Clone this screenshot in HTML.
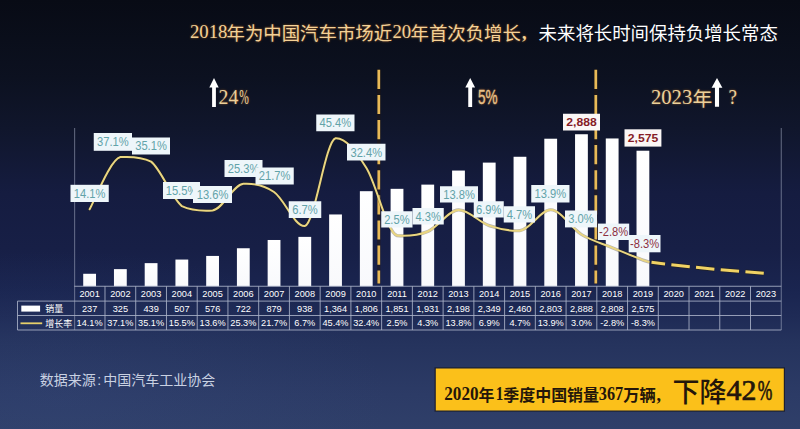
<!DOCTYPE html>
<html><head><meta charset="utf-8"><title>chart</title>
<style>
html,body{margin:0;padding:0;background:#0d1222;}
body{width:800px;height:429px;overflow:hidden;font-family:"Liberation Sans",sans-serif;}
svg{display:block;}
</style></head><body>
<svg width="800" height="429" viewBox="0 0 800 429"><defs>
<linearGradient id="bg" x1="0" y1="0" x2="0" y2="1">
<stop offset="0" stop-color="#080b15"/>
<stop offset="0.18" stop-color="#0c1120"/>
<stop offset="0.30" stop-color="#10162c"/>
<stop offset="0.45" stop-color="#151c40"/>
<stop offset="0.58" stop-color="#171f46"/>
<stop offset="0.68" stop-color="#1a2550"/>
<stop offset="0.74" stop-color="#1f2b56"/>
<stop offset="0.80" stop-color="#25335d"/>
<stop offset="0.92" stop-color="#2c3b66"/>
<stop offset="1" stop-color="#2f3f69"/>
</linearGradient>
<radialGradient id="glowL" cx="0.5" cy="0.5" r="0.5">
<stop offset="0" stop-color="#3a5086" stop-opacity="0.18"/>
<stop offset="1" stop-color="#3a5086" stop-opacity="0"/>
</radialGradient>
<linearGradient id="bar" x1="0" y1="0" x2="0" y2="1">
<stop offset="0" stop-color="#ffffff"/>
<stop offset="1" stop-color="#f8f9fc"/>
</linearGradient>
<filter id="glow" x="-5%" y="-30%" width="110%" height="160%">
<feGaussianBlur stdDeviation="1.2"/>
</filter>
<filter id="soft" x="-5%" y="-5%" width="110%" height="110%">
<feGaussianBlur stdDeviation="0.35"/>
</filter>
</defs>
<rect x="0" y="0" width="800" height="429" fill="url(#bg)"/>
<ellipse cx="60" cy="400" rx="330" ry="150" fill="url(#glowL)"/>
<line x1="74.65" y1="128" x2="74.65" y2="330" stroke="#aab2c8" stroke-width="1" opacity="0.55"/>
<line x1="781.25" y1="128" x2="781.25" y2="330" stroke="#aab2c8" stroke-width="1" opacity="0.55"/>
<rect x="83.22" y="273.78" width="12.80" height="12.47" fill="url(#bar)"/>
<rect x="113.96" y="269.14" width="12.80" height="17.11" fill="url(#bar)"/>
<rect x="144.70" y="263.14" width="12.80" height="23.11" fill="url(#bar)"/>
<rect x="175.44" y="259.56" width="12.80" height="26.69" fill="url(#bar)"/>
<rect x="206.18" y="255.93" width="12.80" height="30.32" fill="url(#bar)"/>
<rect x="236.92" y="248.25" width="12.80" height="38.00" fill="url(#bar)"/>
<rect x="267.65" y="239.99" width="12.80" height="46.26" fill="url(#bar)"/>
<rect x="298.39" y="236.88" width="12.80" height="49.37" fill="url(#bar)"/>
<rect x="329.13" y="214.46" width="12.80" height="71.79" fill="url(#bar)"/>
<rect x="359.87" y="191.19" width="12.80" height="95.06" fill="url(#bar)"/>
<rect x="390.61" y="188.83" width="12.80" height="97.42" fill="url(#bar)"/>
<rect x="421.35" y="184.62" width="12.80" height="101.63" fill="url(#bar)"/>
<rect x="452.09" y="170.56" width="12.80" height="115.69" fill="url(#bar)"/>
<rect x="482.83" y="162.61" width="12.80" height="123.64" fill="url(#bar)"/>
<rect x="513.57" y="156.77" width="12.80" height="129.48" fill="url(#bar)"/>
<rect x="544.31" y="138.72" width="12.80" height="147.53" fill="url(#bar)"/>
<rect x="575.05" y="134.24" width="12.80" height="152.01" fill="url(#bar)"/>
<rect x="605.78" y="138.46" width="12.80" height="147.79" fill="url(#bar)"/>
<rect x="636.52" y="150.72" width="12.80" height="135.53" fill="url(#bar)"/>
<line x1="74.25" y1="286.25" x2="781.25" y2="286.25" stroke="#aab2c8" stroke-width="1" opacity="0.85"/>
<line x1="17.50" y1="301.10" x2="781.25" y2="301.10" stroke="#aab2c8" stroke-width="1" opacity="0.85"/>
<line x1="17.50" y1="315.50" x2="781.25" y2="315.50" stroke="#aab2c8" stroke-width="1" opacity="0.85"/>
<line x1="17.50" y1="330.00" x2="781.25" y2="330.00" stroke="#aab2c8" stroke-width="1" opacity="0.85"/>
<line x1="17.5" y1="301.1" x2="17.5" y2="330" stroke="#aab2c8" stroke-width="1" opacity="0.85"/>
<line x1="104.99" y1="286.25" x2="104.99" y2="330" stroke="#aab2c8" stroke-width="1" opacity="0.85"/>
<line x1="135.73" y1="286.25" x2="135.73" y2="330" stroke="#aab2c8" stroke-width="1" opacity="0.85"/>
<line x1="166.47" y1="286.25" x2="166.47" y2="330" stroke="#aab2c8" stroke-width="1" opacity="0.85"/>
<line x1="197.21" y1="286.25" x2="197.21" y2="330" stroke="#aab2c8" stroke-width="1" opacity="0.85"/>
<line x1="227.95" y1="286.25" x2="227.95" y2="330" stroke="#aab2c8" stroke-width="1" opacity="0.85"/>
<line x1="258.68" y1="286.25" x2="258.68" y2="330" stroke="#aab2c8" stroke-width="1" opacity="0.85"/>
<line x1="289.42" y1="286.25" x2="289.42" y2="330" stroke="#aab2c8" stroke-width="1" opacity="0.85"/>
<line x1="320.16" y1="286.25" x2="320.16" y2="330" stroke="#aab2c8" stroke-width="1" opacity="0.85"/>
<line x1="350.90" y1="286.25" x2="350.90" y2="330" stroke="#aab2c8" stroke-width="1" opacity="0.85"/>
<line x1="381.64" y1="286.25" x2="381.64" y2="330" stroke="#aab2c8" stroke-width="1" opacity="0.85"/>
<line x1="412.38" y1="286.25" x2="412.38" y2="330" stroke="#aab2c8" stroke-width="1" opacity="0.85"/>
<line x1="443.12" y1="286.25" x2="443.12" y2="330" stroke="#aab2c8" stroke-width="1" opacity="0.85"/>
<line x1="473.86" y1="286.25" x2="473.86" y2="330" stroke="#aab2c8" stroke-width="1" opacity="0.85"/>
<line x1="504.60" y1="286.25" x2="504.60" y2="330" stroke="#aab2c8" stroke-width="1" opacity="0.85"/>
<line x1="535.34" y1="286.25" x2="535.34" y2="330" stroke="#aab2c8" stroke-width="1" opacity="0.85"/>
<line x1="566.08" y1="286.25" x2="566.08" y2="330" stroke="#aab2c8" stroke-width="1" opacity="0.85"/>
<line x1="596.82" y1="286.25" x2="596.82" y2="330" stroke="#aab2c8" stroke-width="1" opacity="0.85"/>
<line x1="627.55" y1="286.25" x2="627.55" y2="330" stroke="#aab2c8" stroke-width="1" opacity="0.85"/>
<line x1="658.29" y1="286.25" x2="658.29" y2="330" stroke="#aab2c8" stroke-width="1" opacity="0.85"/>
<line x1="689.03" y1="286.25" x2="689.03" y2="330" stroke="#aab2c8" stroke-width="1" opacity="0.85"/>
<line x1="719.77" y1="286.25" x2="719.77" y2="330" stroke="#aab2c8" stroke-width="1" opacity="0.85"/>
<line x1="750.51" y1="286.25" x2="750.51" y2="330" stroke="#aab2c8" stroke-width="1" opacity="0.85"/>
<text x="89.62" y="297.40" font-family="'Liberation Sans', sans-serif" font-size="9.20" font-weight="normal" fill="#ffffff" text-anchor="middle" >2001</text>
<text x="120.36" y="297.40" font-family="'Liberation Sans', sans-serif" font-size="9.20" font-weight="normal" fill="#ffffff" text-anchor="middle" >2002</text>
<text x="151.10" y="297.40" font-family="'Liberation Sans', sans-serif" font-size="9.20" font-weight="normal" fill="#ffffff" text-anchor="middle" >2003</text>
<text x="181.84" y="297.40" font-family="'Liberation Sans', sans-serif" font-size="9.20" font-weight="normal" fill="#ffffff" text-anchor="middle" >2004</text>
<text x="212.58" y="297.40" font-family="'Liberation Sans', sans-serif" font-size="9.20" font-weight="normal" fill="#ffffff" text-anchor="middle" >2005</text>
<text x="243.32" y="297.40" font-family="'Liberation Sans', sans-serif" font-size="9.20" font-weight="normal" fill="#ffffff" text-anchor="middle" >2006</text>
<text x="274.05" y="297.40" font-family="'Liberation Sans', sans-serif" font-size="9.20" font-weight="normal" fill="#ffffff" text-anchor="middle" >2007</text>
<text x="304.79" y="297.40" font-family="'Liberation Sans', sans-serif" font-size="9.20" font-weight="normal" fill="#ffffff" text-anchor="middle" >2008</text>
<text x="335.53" y="297.40" font-family="'Liberation Sans', sans-serif" font-size="9.20" font-weight="normal" fill="#ffffff" text-anchor="middle" >2009</text>
<text x="366.27" y="297.40" font-family="'Liberation Sans', sans-serif" font-size="9.20" font-weight="normal" fill="#ffffff" text-anchor="middle" >2010</text>
<text x="397.01" y="297.40" font-family="'Liberation Sans', sans-serif" font-size="9.20" font-weight="normal" fill="#ffffff" text-anchor="middle" >2011</text>
<text x="427.75" y="297.40" font-family="'Liberation Sans', sans-serif" font-size="9.20" font-weight="normal" fill="#ffffff" text-anchor="middle" >2012</text>
<text x="458.49" y="297.40" font-family="'Liberation Sans', sans-serif" font-size="9.20" font-weight="normal" fill="#ffffff" text-anchor="middle" >2013</text>
<text x="489.23" y="297.40" font-family="'Liberation Sans', sans-serif" font-size="9.20" font-weight="normal" fill="#ffffff" text-anchor="middle" >2014</text>
<text x="519.97" y="297.40" font-family="'Liberation Sans', sans-serif" font-size="9.20" font-weight="normal" fill="#ffffff" text-anchor="middle" >2015</text>
<text x="550.71" y="297.40" font-family="'Liberation Sans', sans-serif" font-size="9.20" font-weight="normal" fill="#ffffff" text-anchor="middle" >2016</text>
<text x="581.45" y="297.40" font-family="'Liberation Sans', sans-serif" font-size="9.20" font-weight="normal" fill="#ffffff" text-anchor="middle" >2017</text>
<text x="612.18" y="297.40" font-family="'Liberation Sans', sans-serif" font-size="9.20" font-weight="normal" fill="#ffffff" text-anchor="middle" >2018</text>
<text x="642.92" y="297.40" font-family="'Liberation Sans', sans-serif" font-size="9.20" font-weight="normal" fill="#ffffff" text-anchor="middle" >2019</text>
<text x="673.66" y="297.40" font-family="'Liberation Sans', sans-serif" font-size="9.20" font-weight="normal" fill="#ffffff" text-anchor="middle" >2020</text>
<text x="704.40" y="297.40" font-family="'Liberation Sans', sans-serif" font-size="9.20" font-weight="normal" fill="#ffffff" text-anchor="middle" >2021</text>
<text x="735.14" y="297.40" font-family="'Liberation Sans', sans-serif" font-size="9.20" font-weight="normal" fill="#ffffff" text-anchor="middle" >2022</text>
<text x="765.88" y="297.40" font-family="'Liberation Sans', sans-serif" font-size="9.20" font-weight="normal" fill="#ffffff" text-anchor="middle" >2023</text>
<text x="89.62" y="311.90" font-family="'Liberation Sans', sans-serif" font-size="9.20" font-weight="normal" fill="#ffffff" text-anchor="middle" >237</text>
<text x="120.36" y="311.90" font-family="'Liberation Sans', sans-serif" font-size="9.20" font-weight="normal" fill="#ffffff" text-anchor="middle" >325</text>
<text x="151.10" y="311.90" font-family="'Liberation Sans', sans-serif" font-size="9.20" font-weight="normal" fill="#ffffff" text-anchor="middle" >439</text>
<text x="181.84" y="311.90" font-family="'Liberation Sans', sans-serif" font-size="9.20" font-weight="normal" fill="#ffffff" text-anchor="middle" >507</text>
<text x="212.58" y="311.90" font-family="'Liberation Sans', sans-serif" font-size="9.20" font-weight="normal" fill="#ffffff" text-anchor="middle" >576</text>
<text x="243.32" y="311.90" font-family="'Liberation Sans', sans-serif" font-size="9.20" font-weight="normal" fill="#ffffff" text-anchor="middle" >722</text>
<text x="274.05" y="311.90" font-family="'Liberation Sans', sans-serif" font-size="9.20" font-weight="normal" fill="#ffffff" text-anchor="middle" >879</text>
<text x="304.79" y="311.90" font-family="'Liberation Sans', sans-serif" font-size="9.20" font-weight="normal" fill="#ffffff" text-anchor="middle" >938</text>
<text x="335.53" y="311.90" font-family="'Liberation Sans', sans-serif" font-size="9.20" font-weight="normal" fill="#ffffff" text-anchor="middle" >1,364</text>
<text x="366.27" y="311.90" font-family="'Liberation Sans', sans-serif" font-size="9.20" font-weight="normal" fill="#ffffff" text-anchor="middle" >1,806</text>
<text x="397.01" y="311.90" font-family="'Liberation Sans', sans-serif" font-size="9.20" font-weight="normal" fill="#ffffff" text-anchor="middle" >1,851</text>
<text x="427.75" y="311.90" font-family="'Liberation Sans', sans-serif" font-size="9.20" font-weight="normal" fill="#ffffff" text-anchor="middle" >1,931</text>
<text x="458.49" y="311.90" font-family="'Liberation Sans', sans-serif" font-size="9.20" font-weight="normal" fill="#ffffff" text-anchor="middle" >2,198</text>
<text x="489.23" y="311.90" font-family="'Liberation Sans', sans-serif" font-size="9.20" font-weight="normal" fill="#ffffff" text-anchor="middle" >2,349</text>
<text x="519.97" y="311.90" font-family="'Liberation Sans', sans-serif" font-size="9.20" font-weight="normal" fill="#ffffff" text-anchor="middle" >2,460</text>
<text x="550.71" y="311.90" font-family="'Liberation Sans', sans-serif" font-size="9.20" font-weight="normal" fill="#ffffff" text-anchor="middle" >2,803</text>
<text x="581.45" y="311.90" font-family="'Liberation Sans', sans-serif" font-size="9.20" font-weight="normal" fill="#ffffff" text-anchor="middle" >2,888</text>
<text x="612.18" y="311.90" font-family="'Liberation Sans', sans-serif" font-size="9.20" font-weight="normal" fill="#ffffff" text-anchor="middle" >2,808</text>
<text x="642.92" y="311.90" font-family="'Liberation Sans', sans-serif" font-size="9.20" font-weight="normal" fill="#ffffff" text-anchor="middle" >2,575</text>
<text x="89.62" y="326.30" font-family="'Liberation Sans', sans-serif" font-size="9.20" font-weight="normal" fill="#ffffff" text-anchor="middle" >14.1%</text>
<text x="120.36" y="326.30" font-family="'Liberation Sans', sans-serif" font-size="9.20" font-weight="normal" fill="#ffffff" text-anchor="middle" >37.1%</text>
<text x="151.10" y="326.30" font-family="'Liberation Sans', sans-serif" font-size="9.20" font-weight="normal" fill="#ffffff" text-anchor="middle" >35.1%</text>
<text x="181.84" y="326.30" font-family="'Liberation Sans', sans-serif" font-size="9.20" font-weight="normal" fill="#ffffff" text-anchor="middle" >15.5%</text>
<text x="212.58" y="326.30" font-family="'Liberation Sans', sans-serif" font-size="9.20" font-weight="normal" fill="#ffffff" text-anchor="middle" >13.6%</text>
<text x="243.32" y="326.30" font-family="'Liberation Sans', sans-serif" font-size="9.20" font-weight="normal" fill="#ffffff" text-anchor="middle" >25.3%</text>
<text x="274.05" y="326.30" font-family="'Liberation Sans', sans-serif" font-size="9.20" font-weight="normal" fill="#ffffff" text-anchor="middle" >21.7%</text>
<text x="304.79" y="326.30" font-family="'Liberation Sans', sans-serif" font-size="9.20" font-weight="normal" fill="#ffffff" text-anchor="middle" >6.7%</text>
<text x="335.53" y="326.30" font-family="'Liberation Sans', sans-serif" font-size="9.20" font-weight="normal" fill="#ffffff" text-anchor="middle" >45.4%</text>
<text x="366.27" y="326.30" font-family="'Liberation Sans', sans-serif" font-size="9.20" font-weight="normal" fill="#ffffff" text-anchor="middle" >32.4%</text>
<text x="397.01" y="326.30" font-family="'Liberation Sans', sans-serif" font-size="9.20" font-weight="normal" fill="#ffffff" text-anchor="middle" >2.5%</text>
<text x="427.75" y="326.30" font-family="'Liberation Sans', sans-serif" font-size="9.20" font-weight="normal" fill="#ffffff" text-anchor="middle" >4.3%</text>
<text x="458.49" y="326.30" font-family="'Liberation Sans', sans-serif" font-size="9.20" font-weight="normal" fill="#ffffff" text-anchor="middle" >13.8%</text>
<text x="489.23" y="326.30" font-family="'Liberation Sans', sans-serif" font-size="9.20" font-weight="normal" fill="#ffffff" text-anchor="middle" >6.9%</text>
<text x="519.97" y="326.30" font-family="'Liberation Sans', sans-serif" font-size="9.20" font-weight="normal" fill="#ffffff" text-anchor="middle" >4.7%</text>
<text x="550.71" y="326.30" font-family="'Liberation Sans', sans-serif" font-size="9.20" font-weight="normal" fill="#ffffff" text-anchor="middle" >13.9%</text>
<text x="581.45" y="326.30" font-family="'Liberation Sans', sans-serif" font-size="9.20" font-weight="normal" fill="#ffffff" text-anchor="middle" >3.0%</text>
<text x="612.18" y="326.30" font-family="'Liberation Sans', sans-serif" font-size="9.20" font-weight="normal" fill="#ffffff" text-anchor="middle" >-2.8%</text>
<text x="642.92" y="326.30" font-family="'Liberation Sans', sans-serif" font-size="9.20" font-weight="normal" fill="#ffffff" text-anchor="middle" >-8.3%</text>
<rect x="21.3" y="305.6" width="18.8" height="6" fill="#ffffff"/>
<line x1="20.5" y1="323.3" x2="42.2" y2="323.3" stroke="#e6cf6a" stroke-width="1.8"/>
<text x="45.20" y="312.20" font-family="'Liberation Sans', 'Noto Sans CJK SC', sans-serif" font-size="9.00" font-weight="normal" fill="#ffffff" text-anchor="start" textLength="18.00" lengthAdjust="spacingAndGlyphs">销量</text>
<text x="45.20" y="326.60" font-family="'Liberation Sans', 'Noto Sans CJK SC', sans-serif" font-size="9.00" font-weight="normal" fill="#ffffff" text-anchor="start" textLength="27.00" lengthAdjust="spacingAndGlyphs">增长率</text>
<path d="M378.80 69.3V284" stroke="#2a1a0c" stroke-width="3.4" fill="none" opacity="0.42"/>
<path d="M378.80 69.80V89.00M378.80 94.90V114.10M378.80 120.00V139.20M378.80 145.10V164.30M378.80 170.20V189.40M378.80 195.30V214.50M378.80 220.40V239.60M378.80 245.50V264.70M378.80 270.60V283.50" stroke="#e8ba58" stroke-width="2.7" fill="none"/>
<path d="M595.80 69.3V284" stroke="#2a1a0c" stroke-width="3.4" fill="none" opacity="0.42"/>
<path d="M595.80 69.80V89.00M595.80 94.90V114.10M595.80 120.00V139.20M595.80 145.10V164.30M595.80 170.20V189.40M595.80 195.30V214.50M595.80 220.40V239.60M595.80 245.50V264.70M595.80 270.60V283.50" stroke="#e8ba58" stroke-width="2.7" fill="none"/>
<path d="M89.62 209.29C94.74 200.59 110.11 159.47 120.36 157.08C130.61 156.48 140.85 156.48 151.10 161.62C161.34 169.79 171.59 197.98 181.84 206.12C192.08 211.03 202.33 211.03 212.58 210.43C222.82 209.32 233.07 184.79 243.32 183.87C253.56 183.27 263.81 185.00 274.05 192.04C284.30 199.08 294.55 226.69 304.79 226.09C315.04 223.40 325.29 141.16 335.53 138.24C345.78 137.64 356.03 151.52 366.27 167.75C376.52 183.98 386.76 232.44 397.01 235.62C407.26 236.22 417.50 235.81 427.75 231.54C438.00 227.26 448.24 210.27 458.49 209.97C468.74 209.68 478.98 222.19 489.23 225.64C499.47 229.08 509.72 231.23 519.97 230.63C530.21 229.84 540.46 209.55 550.71 209.75C560.95 209.94 571.20 228.17 581.45 234.49C591.69 240.81 601.94 243.38 612.18 247.66C622.43 251.93 637.80 258.06 642.92 260.14L648.6 261.9" stroke="#2a2208" stroke-width="3.2" fill="none" opacity="0.32" stroke-linecap="round"/>
<path d="M89.62 209.29C94.74 200.59 110.11 159.47 120.36 157.08C130.61 156.48 140.85 156.48 151.10 161.62C161.34 169.79 171.59 197.98 181.84 206.12C192.08 211.03 202.33 211.03 212.58 210.43C222.82 209.32 233.07 184.79 243.32 183.87C253.56 183.27 263.81 185.00 274.05 192.04C284.30 199.08 294.55 226.69 304.79 226.09C315.04 223.40 325.29 141.16 335.53 138.24C345.78 137.64 356.03 151.52 366.27 167.75C376.52 183.98 386.76 232.44 397.01 235.62C407.26 236.22 417.50 235.81 427.75 231.54C438.00 227.26 448.24 210.27 458.49 209.97C468.74 209.68 478.98 222.19 489.23 225.64C499.47 229.08 509.72 231.23 519.97 230.63C530.21 229.84 540.46 209.55 550.71 209.75C560.95 209.94 571.20 228.17 581.45 234.49C591.69 240.81 601.94 243.38 612.18 247.66C622.43 251.93 637.80 258.06 642.92 260.14L648.6 261.9" stroke="#ead680" stroke-width="2.0" fill="none" stroke-linecap="round"/>
<path d="M651.5 262.3C690 267.2 729 270.7 764.4 273.2" stroke="#2a2208" stroke-width="4.6" fill="none" opacity="0.5" stroke-dasharray="13.6 6.3 18.5 6.3 18.5 6.3 18.5 6.3 18.5 200"/>
<path d="M651.5 262.3C690 267.2 729 270.7 764.4 273.2" stroke="#f0d264" stroke-width="3" fill="none" stroke-dasharray="13.6 6.3 18.5 6.3 18.5 6.3 18.5 6.3 18.5 200"/>
<rect x="70.50" y="184.80" width="38.25" height="17.20" fill="#eef6fa"/>
<text x="73.81" y="197.80" font-family="'Liberation Sans', sans-serif" font-size="12.40" font-weight="normal" fill="#62a3a9" text-anchor="start" textLength="31.64" lengthAdjust="spacingAndGlyphs" >14.1%</text>
<rect x="93.75" y="133.00" width="38.25" height="17.80" fill="#eef6fa"/>
<text x="97.06" y="146.30" font-family="'Liberation Sans', sans-serif" font-size="12.40" font-weight="normal" fill="#62a3a9" text-anchor="start" textLength="31.64" lengthAdjust="spacingAndGlyphs" >37.1%</text>
<rect x="132.00" y="137.50" width="38.00" height="17.00" fill="#eef6fa"/>
<text x="135.18" y="150.40" font-family="'Liberation Sans', sans-serif" font-size="12.40" font-weight="normal" fill="#62a3a9" text-anchor="start" textLength="31.64" lengthAdjust="spacingAndGlyphs" >35.1%</text>
<rect x="163.00" y="182.00" width="37.00" height="17.00" fill="#eef6fa"/>
<text x="165.68" y="194.90" font-family="'Liberation Sans', sans-serif" font-size="12.40" font-weight="normal" fill="#62a3a9" text-anchor="start" textLength="31.64" lengthAdjust="spacingAndGlyphs" >15.5%</text>
<rect x="193.00" y="186.00" width="39.00" height="17.00" fill="#eef6fa"/>
<text x="196.68" y="198.90" font-family="'Liberation Sans', sans-serif" font-size="12.40" font-weight="normal" fill="#62a3a9" text-anchor="start" textLength="31.64" lengthAdjust="spacingAndGlyphs" >13.6%</text>
<rect x="224.50" y="160.00" width="38.00" height="17.00" fill="#eef6fa"/>
<text x="227.68" y="172.90" font-family="'Liberation Sans', sans-serif" font-size="12.40" font-weight="normal" fill="#62a3a9" text-anchor="start" textLength="31.64" lengthAdjust="spacingAndGlyphs" >25.3%</text>
<rect x="255.50" y="167.50" width="38.25" height="17.00" fill="#eef6fa"/>
<text x="258.81" y="180.40" font-family="'Liberation Sans', sans-serif" font-size="12.40" font-weight="normal" fill="#62a3a9" text-anchor="start" textLength="31.64" lengthAdjust="spacingAndGlyphs" >21.7%</text>
<rect x="288.75" y="201.25" width="32.50" height="16.75" fill="#eef6fa"/>
<text x="292.28" y="214.03" font-family="'Liberation Sans', sans-serif" font-size="12.40" font-weight="normal" fill="#62a3a9" text-anchor="start" textLength="25.43" lengthAdjust="spacingAndGlyphs" >6.7%</text>
<rect x="316.25" y="114.50" width="38.25" height="16.75" fill="#eef6fa"/>
<text x="319.56" y="127.28" font-family="'Liberation Sans', sans-serif" font-size="12.40" font-weight="normal" fill="#62a3a9" text-anchor="start" textLength="31.64" lengthAdjust="spacingAndGlyphs" >45.4%</text>
<rect x="347.00" y="143.75" width="38.50" height="16.75" fill="#eef6fa"/>
<text x="350.43" y="156.53" font-family="'Liberation Sans', sans-serif" font-size="12.40" font-weight="normal" fill="#62a3a9" text-anchor="start" textLength="31.64" lengthAdjust="spacingAndGlyphs" >32.4%</text>
<rect x="381.25" y="211.25" width="31.25" height="16.25" fill="#eef6fa"/>
<text x="384.16" y="223.78" font-family="'Liberation Sans', sans-serif" font-size="12.40" font-weight="normal" fill="#62a3a9" text-anchor="start" textLength="25.43" lengthAdjust="spacingAndGlyphs" >2.5%</text>
<rect x="412.50" y="208.00" width="31.25" height="16.50" fill="#eef6fa"/>
<text x="415.41" y="220.65" font-family="'Liberation Sans', sans-serif" font-size="12.40" font-weight="normal" fill="#62a3a9" text-anchor="start" textLength="25.43" lengthAdjust="spacingAndGlyphs" >4.3%</text>
<rect x="440.00" y="186.25" width="38.00" height="16.25" fill="#eef6fa"/>
<text x="443.18" y="198.78" font-family="'Liberation Sans', sans-serif" font-size="12.40" font-weight="normal" fill="#62a3a9" text-anchor="start" textLength="31.64" lengthAdjust="spacingAndGlyphs" >13.8%</text>
<rect x="473.75" y="201.25" width="30.00" height="16.25" fill="#eef6fa"/>
<text x="476.03" y="213.78" font-family="'Liberation Sans', sans-serif" font-size="12.40" font-weight="normal" fill="#62a3a9" text-anchor="start" textLength="25.43" lengthAdjust="spacingAndGlyphs" >6.9%</text>
<rect x="503.75" y="206.25" width="31.25" height="16.25" fill="#eef6fa"/>
<text x="506.66" y="218.78" font-family="'Liberation Sans', sans-serif" font-size="12.40" font-weight="normal" fill="#62a3a9" text-anchor="start" textLength="25.43" lengthAdjust="spacingAndGlyphs" >4.7%</text>
<rect x="531.25" y="185.00" width="38.25" height="17.50" fill="#eef6fa"/>
<text x="534.56" y="198.15" font-family="'Liberation Sans', sans-serif" font-size="12.40" font-weight="normal" fill="#62a3a9" text-anchor="start" textLength="31.64" lengthAdjust="spacingAndGlyphs" >13.9%</text>
<rect x="565.00" y="210.50" width="32.00" height="16.90" fill="#eef6fa"/>
<text x="568.28" y="223.35" font-family="'Liberation Sans', sans-serif" font-size="12.40" font-weight="normal" fill="#62a3a9" text-anchor="start" textLength="25.43" lengthAdjust="spacingAndGlyphs" >3.0%</text>
<rect x="598.00" y="223.60" width="31.20" height="16.40" fill="#eef6fa"/>
<text x="599.03" y="236.20" font-family="'Liberation Sans', sans-serif" font-size="12.40" font-weight="normal" fill="#8c2f3f" text-anchor="start" textLength="29.15" lengthAdjust="spacingAndGlyphs" >-2.8%</text>
<rect x="628.70" y="235.00" width="31.80" height="17.30" fill="#eef6fa"/>
<text x="630.03" y="248.05" font-family="'Liberation Sans', sans-serif" font-size="12.40" font-weight="normal" fill="#8c2f3f" text-anchor="start" textLength="29.15" lengthAdjust="spacingAndGlyphs" >-8.3%</text>
<rect x="563.00" y="113.75" width="37.00" height="16.75" fill="#fbf7f6"/>
<text x="566.30" y="126.22" font-family="'Liberation Sans', sans-serif" font-size="11.60" font-weight="bold" fill="#861c26" text-anchor="start" textLength="30.40" lengthAdjust="spacingAndGlyphs" >2,888</text>
<rect x="624.50" y="129.30" width="36.90" height="17.30" fill="#fbf7f6"/>
<text x="627.75" y="142.05" font-family="'Liberation Sans', sans-serif" font-size="11.60" font-weight="bold" fill="#861c26" text-anchor="start" textLength="30.40" lengthAdjust="spacingAndGlyphs" >2,575</text>
<path d="M214.00 77.90L218.70 87.50H215.90V107.00H212.10V87.50H209.30Z" fill="#ffffff"/>
<path d="M470.20 77.90L475.10 87.50H472.15V107.00H468.25V87.50H465.30Z" fill="#ffffff"/>
<path d="M717.00 77.90L722.40 87.70H719.05V106.80H714.95V87.70H711.60Z" fill="#ffffff"/>
<g filter="url(#glow)" opacity="0.6"><text x="218.60" y="103.80" font-family="'Liberation Serif', sans-serif" font-size="21.00" font-weight="normal" fill="#c97a2a" text-anchor="start" textLength="19.80" lengthAdjust="spacingAndGlyphs" >24</text><text x="239.20" y="103.80" font-family="'Liberation Serif', sans-serif" font-size="21.00" font-weight="normal" fill="#c97a2a" text-anchor="start" textLength="9.60" lengthAdjust="spacingAndGlyphs" >%</text><text x="478.00" y="104.20" font-family="'Liberation Sans', sans-serif" font-size="19.60" font-weight="normal" fill="#c97a2a" text-anchor="start" textLength="19.60" lengthAdjust="spacingAndGlyphs" stroke="#c97a2a" stroke-width="0.35">5%</text><text x="651.00" y="103.80" font-family="'Liberation Serif', sans-serif" font-size="21.00" font-weight="normal" fill="#c97a2a" text-anchor="start" textLength="41.20" lengthAdjust="spacingAndGlyphs" >2023</text><text x="692.40" y="106.00" font-family="'Liberation Sans', 'Noto Sans CJK SC', sans-serif" font-size="19.80" font-weight="normal" fill="#c97a2a" text-anchor="start">年</text><text x="728.50" y="104.40" font-family="'Liberation Serif', sans-serif" font-size="21.00" font-weight="normal" fill="#c97a2a" text-anchor="start" textLength="8.50" lengthAdjust="spacingAndGlyphs" >?</text></g>
<text x="218.60" y="103.80" font-family="'Liberation Serif', sans-serif" font-size="21.00" font-weight="normal" fill="#ecd09a" text-anchor="start" textLength="19.80" lengthAdjust="spacingAndGlyphs" >24</text><text x="239.20" y="103.80" font-family="'Liberation Serif', sans-serif" font-size="21.00" font-weight="normal" fill="#ecd09a" text-anchor="start" textLength="9.60" lengthAdjust="spacingAndGlyphs" >%</text><text x="478.00" y="104.20" font-family="'Liberation Sans', sans-serif" font-size="19.60" font-weight="normal" fill="#e6c088" text-anchor="start" textLength="19.60" lengthAdjust="spacingAndGlyphs" stroke="#e6c088" stroke-width="0.35">5%</text><text x="651.00" y="103.80" font-family="'Liberation Serif', sans-serif" font-size="21.00" font-weight="normal" fill="#ecd09a" text-anchor="start" textLength="41.20" lengthAdjust="spacingAndGlyphs" >2023</text><text x="692.40" y="106.00" font-family="'Liberation Sans', 'Noto Sans CJK SC', sans-serif" font-size="19.80" font-weight="normal" fill="#ecd09a" text-anchor="start">年</text><text x="728.50" y="104.40" font-family="'Liberation Serif', sans-serif" font-size="21.00" font-weight="normal" fill="#ecd09a" text-anchor="start" textLength="8.50" lengthAdjust="spacingAndGlyphs" >?</text>
<g filter="url(#glow)" opacity="0.6"><text x="190.00" y="37.70" font-family="'Liberation Serif', sans-serif" font-size="18.70" font-weight="normal" fill="#d9822b" text-anchor="start" >2018</text><text x="226.50" y="39.90" font-family="'Liberation Sans', 'Noto Sans CJK SC', sans-serif" font-size="18.40" font-weight="normal" fill="#d9822b" text-anchor="start" textLength="165.60" lengthAdjust="spacingAndGlyphs">年为中国汽车市场近</text><text x="392.40" y="37.70" font-family="'Liberation Serif', sans-serif" font-size="18.70" font-weight="normal" fill="#d9822b" text-anchor="start" >20</text><text x="410.50" y="39.90" font-family="'Liberation Sans', 'Noto Sans CJK SC', sans-serif" font-size="18.40" font-weight="normal" fill="#d9822b" text-anchor="start" textLength="110.40" lengthAdjust="spacingAndGlyphs">年首次负增长</text><text x="522.10" y="39.30" font-family="'Liberation Serif', sans-serif" font-size="18.40" font-weight="bold" fill="#d9822b" text-anchor="start" >,</text></g>
<text x="190.00" y="37.70" font-family="'Liberation Serif', sans-serif" font-size="18.70" font-weight="normal" fill="#f4d196" text-anchor="start" >2018</text><text x="226.50" y="39.90" font-family="'Liberation Sans', 'Noto Sans CJK SC', sans-serif" font-size="18.40" font-weight="normal" fill="#f4d196" text-anchor="start" textLength="165.60" lengthAdjust="spacingAndGlyphs">年为中国汽车市场近</text><text x="392.40" y="37.70" font-family="'Liberation Serif', sans-serif" font-size="18.70" font-weight="normal" fill="#f4d196" text-anchor="start" >20</text><text x="410.50" y="39.90" font-family="'Liberation Sans', 'Noto Sans CJK SC', sans-serif" font-size="18.40" font-weight="normal" fill="#f4d196" text-anchor="start" textLength="110.40" lengthAdjust="spacingAndGlyphs">年首次负增长</text><text x="522.10" y="39.30" font-family="'Liberation Serif', sans-serif" font-size="18.40" font-weight="bold" fill="#f4d196" text-anchor="start" >,</text>
<text x="538.60" y="39.90" font-family="'Liberation Sans', 'Noto Sans CJK SC', sans-serif" font-size="18.40" font-weight="normal" fill="#ffffff" text-anchor="start" textLength="239.20" lengthAdjust="spacingAndGlyphs">未来将长时间保持负增长常态</text>
<text x="39.70" y="385.20" font-family="'Liberation Sans', 'Noto Sans CJK SC', sans-serif" font-size="14.00" font-weight="normal" fill="#c9d1e2" text-anchor="start" textLength="56.00" lengthAdjust="spacingAndGlyphs">数据来源</text>
<text x="99.10" y="385.20" font-family="'Liberation Sans', 'Noto Sans CJK SC', sans-serif" font-size="14.00" font-weight="normal" fill="#c9d1e2" text-anchor="middle">:</text>
<text x="103.20" y="385.20" font-family="'Liberation Sans', 'Noto Sans CJK SC', sans-serif" font-size="14.00" font-weight="normal" fill="#c9d1e2" text-anchor="start" textLength="112.00" lengthAdjust="spacingAndGlyphs">中国汽车工业协会</text>
<rect x="434.6" y="367.3" width="350.4" height="44.4" fill="#14110a" opacity="0.6" filter="url(#soft)"/>
<rect x="435.8" y="368.5" width="348" height="42" fill="#fbc01a"/>
<text x="444.20" y="400.40" font-family="'Liberation Serif', sans-serif" font-size="18.00" font-weight="bold" fill="#24160a" text-anchor="start" textLength="34.40" lengthAdjust="spacingAndGlyphs" >2020</text>
<text x="478.60" y="400.60" font-family="'Liberation Sans', 'Noto Sans CJK SC', sans-serif" font-size="15.90" font-weight="bold" fill="#24160a" text-anchor="start">年</text>
<text x="495.70" y="400.40" font-family="'Liberation Serif', sans-serif" font-size="18.00" font-weight="bold" fill="#24160a" text-anchor="start" textLength="7.60" lengthAdjust="spacingAndGlyphs" >1</text>
<text x="503.20" y="400.60" font-family="'Liberation Sans', 'Noto Sans CJK SC', sans-serif" font-size="15.90" font-weight="bold" fill="#24160a" text-anchor="start" textLength="95.90" lengthAdjust="spacingAndGlyphs">季度中国销量</text>
<text x="598.80" y="400.40" font-family="'Liberation Serif', sans-serif" font-size="18.00" font-weight="bold" fill="#24160a" text-anchor="start" textLength="24.40" lengthAdjust="spacingAndGlyphs" >367</text>
<text x="623.30" y="400.60" font-family="'Liberation Sans', 'Noto Sans CJK SC', sans-serif" font-size="16.20" font-weight="bold" fill="#24160a" text-anchor="start" textLength="32.60" lengthAdjust="spacingAndGlyphs">万辆</text>
<text x="656.60" y="401.20" font-family="'Liberation Serif', sans-serif" font-size="18.00" font-weight="bold" fill="#24160a" text-anchor="start" >,</text>
<text x="672.60" y="401.60" font-family="'Liberation Sans', 'Noto Sans CJK SC', sans-serif" font-size="27.00" font-weight="500" fill="#24160a" text-anchor="start" textLength="54.00" lengthAdjust="spacingAndGlyphs">下降</text>
<text x="726.60" y="400.20" font-family="'Liberation Serif', sans-serif" font-size="28.40" font-weight="normal" fill="#24160a" text-anchor="start" textLength="29.80" lengthAdjust="spacingAndGlyphs" stroke="#24160a" stroke-width="0.7">42</text>
<text x="757.80" y="400.20" font-family="'Liberation Serif', sans-serif" font-size="28.40" font-weight="normal" fill="#24160a" text-anchor="start" textLength="14.60" lengthAdjust="spacingAndGlyphs" stroke="#24160a" stroke-width="0.7">%</text>
</svg>
</body></html>
